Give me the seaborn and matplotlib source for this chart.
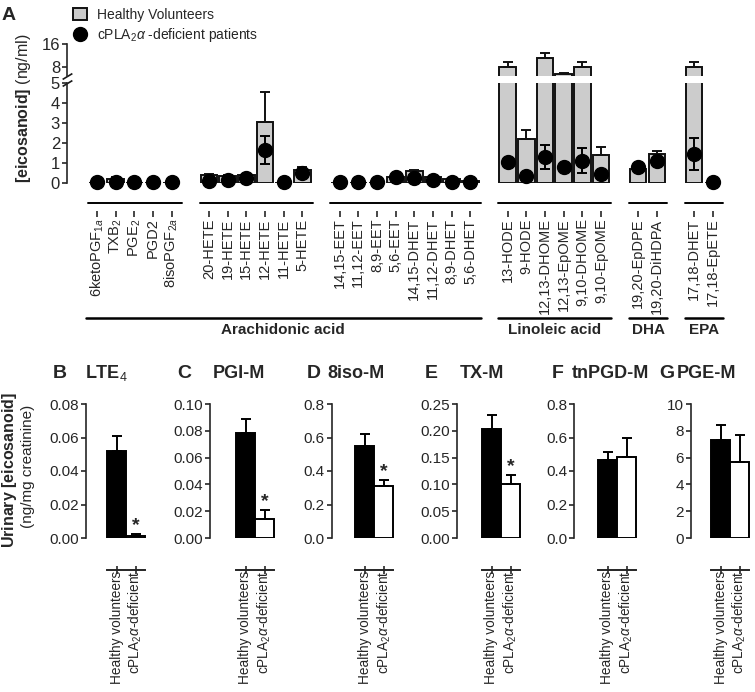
import numpy as np
import pandas as pd
import seaborn as sns
import matplotlib.pyplot as plt
from matplotlib.patches import Patch
from matplotlib.lines import Line2D

sns.set_theme(style="ticks")
plt.rcParams["font.family"] = ["Liberation Sans", "DejaVu Sans"]
plt.rcParams["mathtext.fontset"] = "custom"
plt.rcParams["mathtext.rm"] = "Liberation Sans"
plt.rcParams["mathtext.it"] = "Liberation Sans:italic"
plt.rcParams["mathtext.bf"] = "Liberation Sans:bold"
plt.rcParams["axes.linewidth"] = 1.2

# ---------------- panel A data (plasma, ng/ml) ----------------
groups = [
    ["6ketoPGF$_{1a}$", "TXB$_2$", "PGE$_2$", "PGD2", "8isoPGF$_{2a}$"],
    ["20-HETE", "19-HETE", "15-HETE", "12-HETE", "11-HETE", "5-HETE"],
    ["14,15-EET", "11,12-EET", "8,9-EET", "5,6-EET",
     "14,15-DHET", "11,12-DHET", "8,9-DHET", "5,6-DHET"],
    ["13-HODE", "9-HODE", "12,13-DHOME", "12,13-EpOME", "9,10-DHOME", "9,10-EpOME"],
    ["19,20-EpDPE", "19,20-DiHDPA"],
    ["17,18-DHET", "17,18-EpETE"],
]
healthy_a = [
    0.02, 0.22, 0.02, 0.02, 0.02,
    0.38, 0.36, 0.38, 3.05, 0.02, 0.65,
    0.02, 0.02, 0.02, 0.30, 0.58, 0.30, 0.20, 0.12,
    8.1, 2.18, 11.2, 5.56, 8.1, 1.40,
    0.70, 1.45,
    8.1, 0.02,
]
healthy_a_err = [
    0.0, 0.08, 0.0, 0.0, 0.0,
    0.05, 0.04, 0.05, 1.52, 0.0, 0.15,
    0.0, 0.0, 0.0, 0.04, 0.06, 0.03, 0.02, 0.02,
    1.7, 0.47, 1.6, 0.45, 1.7, 0.42,
    0.0, 0.17,
    1.7, 0.0,
]
patient_a = [
    0.03, 0.05, 0.03, 0.03, 0.03,
    0.12, 0.15, 0.25, 1.65, 0.03, 0.48,
    0.03, 0.03, 0.03, 0.28, 0.25, 0.15, 0.05, 0.03,
    1.07, 0.37, 1.28, 0.82, 1.12, 0.45,
    0.82, 1.12,
    1.43, 0.03,
]
patient_a_err = [
    0.0, 0.0, 0.0, 0.0, 0.0,
    0.05, 0.05, 0.05, 0.70, 0.0, 0.05,
    0.0, 0.0, 0.0, 0.05, 0.05, 0.05, 0.0, 0.0,
    0.05, 0.05, 0.60, 0.05, 0.63, 0.05,
    0.05, 0.15,
    0.80, 0.0,
]
families = ["Arachidonic acid", "Linoleic acid", "DHA", "EPA"]
family_groups = [[0, 1, 2], [3], [4], [5]]

# ---------------- panels B-G data (urine, ng/mg creatinine) ----------------
panel_letters = ["B", "C", "D", "E", "F", "G"]
panel_titles = ["LTE$_4$", "PGI-M", "8iso-M", "TX-M", "tnPGD-M", "PGE-M"]
urine_groups = ["Healthy volunteers", "cPLA$_2\\alpha$-deficient"]
urine_healthy = [0.052, 0.078, 0.547, 0.204, 0.463, 7.3]
urine_healthy_err = [0.009, 0.0107, 0.076, 0.025, 0.05, 1.12]
urine_patient = [0.0012, 0.014, 0.312, 0.101, 0.483, 5.69]
urine_patient_err = [0.0010, 0.0067, 0.036, 0.017, 0.112, 1.98]
urine_signif = [True, True, True, True, False, False]
urine_ymax = [0.08, 0.10, 0.8, 0.25, 0.8, 10]
urine_ystep = [0.02, 0.02, 0.2, 0.05, 0.2, 2]
urine_fmt = ["%.2f", "%.2f", "%.1f", "%.2f", "%.1f", "%.0f"]

# ---------------- figure ----------------
W, H = 755, 692
fig = plt.figure(figsize=(W / 100, H / 100), dpi=100)


def box(left, top, right, bottom):
    return [left / W, 1 - bottom / H, (right - left) / W, (bottom - top) / H]


# categorical order with one empty slot between groups
order = []
real_names = []
for gi, g in enumerate(groups):
    if gi > 0:
        order.append("gap%d" % gi)
    order += g
    real_names += g
pos = {name: order.index(name) for name in real_names}
xpos = np.array([pos[n] for n in real_names])
healthy_a = np.array(healthy_a)
healthy_a_err = np.array(healthy_a_err)

df_a = pd.DataFrame({"analyte": real_names, "value": healthy_a})

ax_top = fig.add_axes(box(67, 44, 726, 75.6))
ax_bot = fig.add_axes(box(67, 83, 726, 183))
gray = "#cccccc"
for ax in (ax_top, ax_bot):
    sns.barplot(data=df_a, x="analyte", y="value", order=order, color=gray,
                saturation=1, edgecolor="#111111", linewidth=1.4, width=0.88,
                errorbar=None, ax=ax)
    ax.set_xlim(-1.61, 33.7)
    ax.set_xlabel("")
    ax.set_ylabel("")
    for s in ("top", "right", "bottom"):
        ax.spines[s].set_visible(False)
    ax.tick_params(axis="y", direction="out", length=3.5, width=1.2,
                   labelsize=12, pad=1.5)

# healthy error bars: upper axis only for tall bars
tall = healthy_a + healthy_a_err > 5
ax_top.errorbar(xpos[tall], healthy_a[tall],
                yerr=[np.zeros(tall.sum()), healthy_a_err[tall]],
                fmt="none", ecolor="#111111", elinewidth=1.4, capsize=3.5,
                capthick=1.4, zorder=2)
ax_bot.errorbar(xpos[~tall], healthy_a[~tall],
                yerr=[np.zeros((~tall).sum()), healthy_a_err[~tall]],
                fmt="none", ecolor="#111111", elinewidth=1.4, capsize=3.5,
                capthick=1.4, zorder=2)

eb = ax_bot.errorbar(xpos, patient_a, yerr=patient_a_err, fmt="o", ms=10,
                     color="black", ecolor="black", elinewidth=1.4,
                     capsize=3.5, capthick=1.4, zorder=4)
for art in eb.get_children():
    art.set_clip_on(False)

ax_top.set_ylim(5, 16)
ax_top.set_yticks([8, 16])
ax_top.set_xticks([])
ax_bot.set_ylim(0, 5)
ax_bot.set_yticks([0, 1, 2, 3, 4, 5])

# break marks
kw = dict(marker=[(-1, -0.6), (1, 0.6)], markersize=7, linestyle="none",
          color="k", mec="k", mew=1.2, clip_on=False)
ax_top.plot([0], [0], transform=ax_top.transAxes, **kw)
ax_bot.plot([0], [1], transform=ax_bot.transAxes, **kw)

# category axis segments
ax_bot.spines["bottom"].set_position(("outward", 20))
ax_bot.set_xticks(xpos)
ax_bot.set_xticklabels(real_names, rotation=90, fontsize=10.5)
ax_bot.tick_params(axis="x", direction="out", length=4.5, width=1.2, pad=1)
xt = ax_bot.get_xaxis_transform()
for g in groups:
    a, b = pos[g[0]], pos[g[-1]]
    ax_bot.plot([a - 0.5, b + 0.55], [-0.2, -0.2], color="black", lw=1.4,
                transform=xt, clip_on=False)
for fam, gl in zip(families, family_groups):
    a = pos[groups[gl[0]][0]] - (0.6 if len(gl) > 1 else 0.5)
    b = pos[groups[gl[-1]][-1]] + 0.55
    ax_bot.plot([a, b], [-1.35, -1.35], color="black", lw=1.8,
                transform=xt, clip_on=False)
    ax_bot.text((a + b) / 2, -1.51, fam, transform=xt, ha="center",
                va="baseline", fontsize=11, fontweight="bold")

fig.text(2 / W, 1 - 20 / H, "A", fontsize=14, fontweight="bold", va="baseline")
fig.text(24 / W, 1 - 108 / H, r"$\mathbf{[eicosanoid]}$ (ng/ml)", rotation=90,
         ha="center", va="center", fontsize=11.5)

handles = [Patch(facecolor=gray, edgecolor="#111111", linewidth=1.4),
           Line2D([], [], marker="o", ms=10, color="black", linestyle="none")]
fig.legend(handles, ["Healthy Volunteers", "cPLA$_2\\alpha$ -deficient patients"],
           loc="upper left", bbox_to_anchor=(73 / W, 1 - 8 / H), frameon=False,
           fontsize=10, handlelength=1.0, handleheight=0.9, handletextpad=0.75,
           labelspacing=0.3, borderpad=0, borderaxespad=0)

# ---------------- panels B-G ----------------
spine_x = [86, 210, 331.5, 457, 574, 691]
first_edge = [107, 236, 355.5, 482, 598, 711]
letter_x = [53, 177, 307, 425, 552, 659]
title_x = [85, 213, 327, 460, 572, 677]
unit = 19.0
for i in range(6):
    left = spine_x[i]
    xmin = -0.5 - (first_edge[i] - left) / unit
    xmax = 1.55
    right = left + (xmax - xmin) * unit
    ax = fig.add_axes(box(left, 404, right, 538))
    d = pd.DataFrame({"group": urine_groups,
                      "value": [urine_healthy[i], urine_patient[i]]})
    sns.barplot(data=d, x="group", y="value", hue="group", order=urine_groups,
                hue_order=urine_groups, palette=["black", "white"],
                saturation=1, edgecolor="black", linewidth=1.4, width=1.0,
                errorbar=None, legend=False, ax=ax)
    vals = [urine_healthy[i], urine_patient[i]]
    errs = [urine_healthy_err[i], urine_patient_err[i]]
    ax.errorbar([0, 1], vals, yerr=[[0, 0], errs], fmt="none", ecolor="black",
                elinewidth=1.4, capsize=3.5, capthick=1.4)
    if urine_signif[i]:
        ax.annotate("*", xy=(1, vals[1] + errs[1]), xytext=(0, 0),
                    textcoords="offset points", ha="center", va="bottom",
                    fontsize=14, fontweight="bold")
    ax.set_xlim(xmin, xmax)
    ax.set_ylim(0, urine_ymax[i])
    ticks = np.arange(0, urine_ymax[i] + urine_ystep[i] / 2, urine_ystep[i])
    ax.set_yticks(ticks)
    ax.set_yticklabels([urine_fmt[i] % t for t in ticks])
    ax.set_xlabel("")
    ax.set_ylabel("")
    ax.spines["top"].set_visible(False)
    ax.spines["right"].set_visible(False)
    ax.spines["bottom"].set_position(("outward", 23))
    ax.spines["bottom"].set_bounds(-0.5, 1.5)
    ax.spines["bottom"].set_linewidth(1.4)
    ax.set_xticks([0, 1])
    ax.set_xticklabels(urine_groups, rotation=90, fontsize=9.8)
    ax.tick_params(axis="x", direction="inout", length=6, width=1.2, pad=-2.5)
    ax.tick_params(axis="y", direction="out", length=3.5, width=1.2, pad=1.5,
                   labelsize=11)
    fig.text(letter_x[i] / W, 1 - 378 / H, panel_letters[i], fontsize=14,
             fontweight="bold", va="baseline")
    fig.text(title_x[i] / W, 1 - 378 / H, panel_titles[i], fontsize=13,
             fontweight="bold", va="baseline")

fig.text(10 / W, 1 - 470 / H, r"$\mathbf{Urinary\ [eicosanoid]}$", rotation=90,
         ha="center", va="center", fontsize=11.5)
fig.text(28 / W, 1 - 466 / H, "(ng/mg creatinine)", rotation=90,
         ha="center", va="center", fontsize=11)

fig.savefig("out.png", dpi=100)
